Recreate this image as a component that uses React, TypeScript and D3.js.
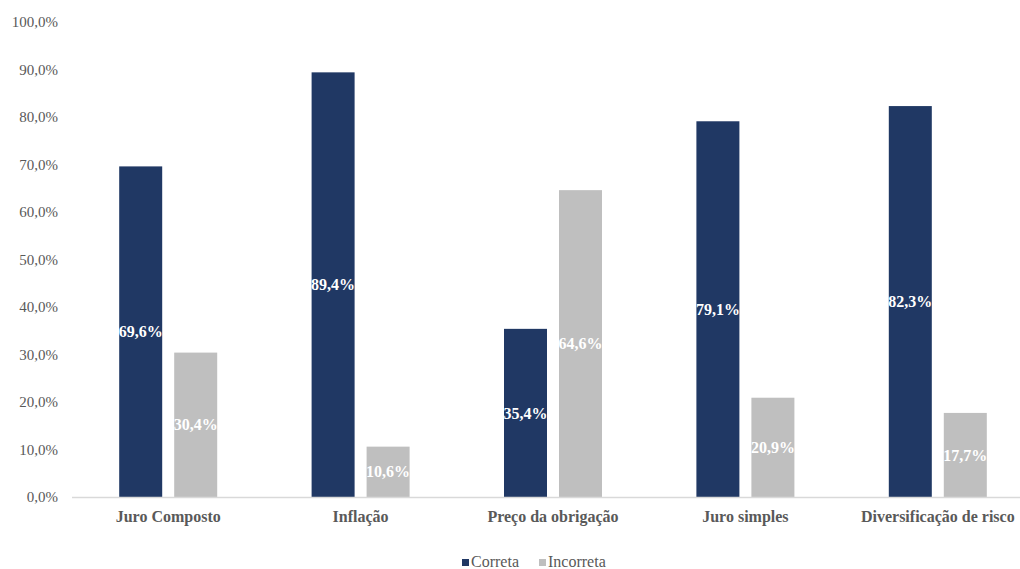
import React from "react";
import * as d3 from "d3";

const categories = ["Juro Composto", "Inflação", "Preço da obrigação", "Juro simples", "Diversificação de risco"];
const correta = [69.6, 89.4, 35.4, 79.1, 82.3];
const incorreta = [30.4, 10.6, 64.6, 20.9, 17.7];
const seriesNames = ["Correta", "Incorreta"];
const seriesColors = ["#203864", "#BFBFBF"];
const yTicks = [0, 10, 20, 30, 40, 50, 60, 70, 80, 90, 100];

const W = 1020;
const H = 569;
const FONT = "'Liberation Serif', 'Times New Roman', serif";
const fmt = (v: number) => v.toFixed(1).replace(".", ",") + "%";

export default function App() {
  const x = d3.scaleBand<string>().domain(categories).range([72, 1034]).paddingInner(0).paddingOuter(0);
  const y = d3.scaleLinear().domain([0, 100]).range([497, 22]);
  const barW = 43;
  const gap = 12;
  const series = [correta, incorreta];
  const legendX = [462, 539];

  return (
    <svg width={W} height={H} fontFamily={FONT} style={{ position: "absolute", left: 0, top: 0, background: "#fff" }}>
      {yTicks.map((t) => (
        <text key={t} x={58} y={y(t)} dy="0.35em" textAnchor="end" fontSize={15} fill="#595959">
          {fmt(t)}
        </text>
      ))}
      {categories.map((c, i) => {
        const cx = x(c)! + x.bandwidth() / 2;
        return (
          <g key={c}>
            {series.map((s, k) => {
              const bx = k === 0 ? cx - gap / 2 - barW : cx + gap / 2;
              const top = y(s[i]);
              return (
                <g key={k}>
                  <rect x={bx} y={top} width={barW} height={y(0) - top} fill={seriesColors[k]} />
                  <text
                    x={bx + barW / 2}
                    y={(top + y(0)) / 2}
                    dy="0.35em"
                    textAnchor="middle"
                    fontWeight="bold"
                    fontSize={16}
                    fill="#fff"
                  >
                    {fmt(s[i])}
                  </text>
                </g>
              );
            })}
            <text x={cx} y={522} textAnchor="middle" fontWeight="bold" fontSize={16} fill="#595959">
              {c}
            </text>
          </g>
        );
      })}
      <line x1={72} x2={1020} y1={y(0) + 0.5} y2={y(0) + 0.5} stroke="#D9D9D9" strokeWidth={1.5} />
      <g>
        {seriesNames.map((n, k) => (
          <g key={n}>
            <rect x={legendX[k]} y={559} width={7} height={7} fill={seriesColors[k]} />
            <text x={legendX[k] + 9} y={567} fontSize={16} fill="#595959">
              {n}
            </text>
          </g>
        ))}
      </g>
    </svg>
  );
}
